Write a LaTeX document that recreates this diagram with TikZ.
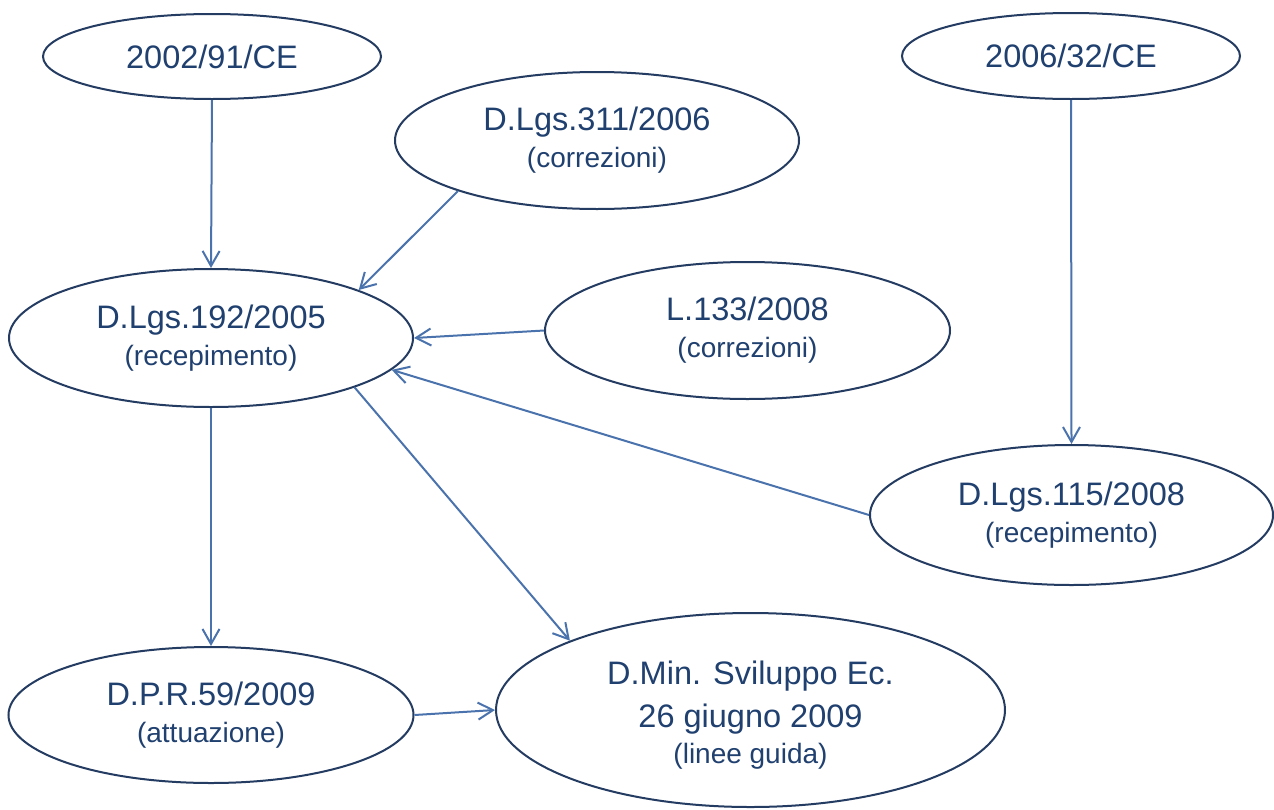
\documentclass[tikz,border=0pt]{standalone}
\usepackage{fontspec}
\setmainfont{Liberation Sans}
\usetikzlibrary{shapes.geometric,arrows.meta}
\definecolor{ellc}{HTML}{243B62}
\definecolor{txtc}{HTML}{20406F}
\definecolor{arrc}{HTML}{4A73AD}
\newcommand{\mainf}{\fontsize{32.5}{35}\selectfont}
\newcommand{\subf}{\fontsize{28}{35}\selectfont}
\tikzset{
  ell/.style={ellipse, draw=ellc, line width=2pt, inner sep=0pt, align=center,
    text=txtc, font=\mainf},
  conn/.style={draw=arrc, line width=2pt,
    -{Straight Barb[length=15pt,width=17pt,line width=2pt]}}
}
\begin{document}
\begin{tikzpicture}[x=1pt,y=-1pt]
\useasboundingbox[fill=white] (0,0) rectangle (1274,809);
\node[ell, minimum width=338pt, minimum height=85pt] (a2002) at (212,56.5) {2002/91/CE};
\node[ell, minimum width=338pt, minimum height=86pt] (a2006) at (1071,56) {2006/32/CE};
\node[ell, minimum width=404pt, minimum height=137pt] (d311) at (597,140.5)
  {D.Lgs.311/2006\\[2pt]{\subf (correzioni)}};
\node[ell, minimum width=404pt, minimum height=138pt] (d192) at (211,338)
  {D.Lgs.192/2005\\[2pt]{\subf (recepimento)}};
\node[ell, minimum width=405pt, minimum height=137pt] (l133) at (747.5,330.5)
  {L.133/2008\\[2pt]{\subf (correzioni)}};
\node[ell, minimum width=403pt, minimum height=140pt] (d115) at (1071.5,515)
  {D.Lgs.115/2008\\[2pt]{\subf (recepimento)}};
\node[ell, minimum width=405pt, minimum height=136pt] (dpr) at (211,715)
  {D.P.R.59/2009\\[2pt]{\subf (attuazione)}};
\node[ell, minimum width=509pt, minimum height=194pt] (dmin) at (750.5,710)
  {\\[-2pt]D.Min. Sviluppo Ec.\\[8pt]26 giugno 2009\\[1pt]{\subf (linee guida)}};
\draw[conn] (a2002.south) -- (d192.north);
\draw[conn] (a2006.south) -- (d115.north);
\draw[conn] (d311.200) -- (d192.18);
\draw[conn] (l133.west) -- (d192.east);
\draw[conn] (d115.180) -- (d192.-10);
\draw[conn] (d192.south) -- (dpr.north);
\draw[conn] (d192.-19) -- (dmin.159.5);
\draw[conn] (dpr.east) -- (dmin.west);
\end{tikzpicture}
\end{document}
